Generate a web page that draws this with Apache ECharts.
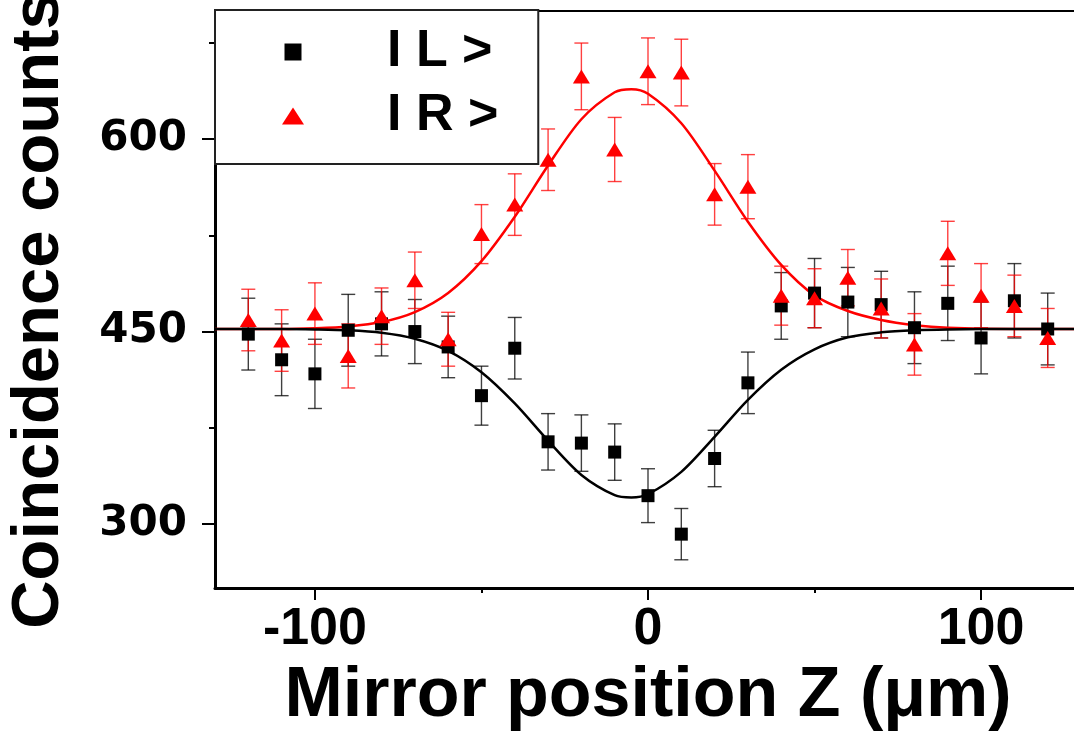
<!DOCTYPE html>
<html>
<head>
<meta charset="utf-8">
<script src="https://cdn.jsdelivr.net/npm/echarts@6/dist/echarts.min.js"></script>
<style>
    html, body { margin: 0; padding: 0; background: #fff; }
    #chart { width: 1074px; height: 731px; }
</style>
</head>
<body>
<div id="chart"></div>
<script>
// mirror positions (um)
var positions = [-120, -110, -100, -90, -80, -70, -60, -50, -40, -30, -20, -10, 0, 10, 20, 30, 40, 50, 60, 70, 80, 90, 100, 110, 120];
// |L> counts and errors
var countsL = [448, 428, 417, 451, 456, 450, 438, 400, 437, 364, 363, 356, 322, 292, 351, 410, 470, 480, 473, 471, 453, 472, 445, 474, 452];
var errorsL = [28, 28, 27, 28, 25, 25, 24, 23, 24, 22, 22, 22, 21, 20, 22, 24, 26, 27, 27, 26, 28, 29, 28, 29, 28];
// |R> counts and errors
var countsR = [459, 443, 464, 431, 462, 490, 444, 526, 549, 584, 649, 592, 653, 652, 557, 563, 478, 476, 492, 468, 440, 511, 478, 470, 445];
var errorsR = [24, 24, 24, 25, 22, 22, 21, 23, 24, 24, 26, 25, 26, 26, 24, 25, 23, 23, 22, 23, 24, 25, 25, 24, 23];
// fitted curves
var fitX = [-130, -110, -100, -90, -80, -70, -60, -50, -40, -30, -20, -10, -5, 0, 10, 20, 30, 40, 50, 60, 70, 80, 90, 110, 130];
var fitL = [452, 452, 451.7, 451, 449.1, 444.4, 434.9, 418.2, 393.9, 364.9, 338.2, 322.4, 320.6, 323.2, 340.6, 367.9, 396.7, 420.2, 436.1, 445.5, 449.4, 451.1, 451.7, 452, 452];
var fitR = [452, 452, 452.6, 454, 457.4, 465.2, 480.1, 504.9, 539.5, 579.5, 615.6, 636.6, 639, 635.5, 612.5, 575.5, 535.7, 502, 478.2, 466, 459, 455, 453, 452, 452];
// axis ticks
var xMajor = [-100, 0, 100];
var xMinor = [-50, 50];
var yMajor = [300, 450, 600];
var yMinor = [375, 525, 675];

var myChart = echarts.init(document.getElementById("chart"));

function pairs(xs, ys) {
    return xs.map(function(x, i) { return [x, ys[i]]; });
}
function triples(xs, ys, es) {
    return xs.map(function(x, i) { return [x, ys[i], es[i]]; });
}

// error bar drawn through the axis scales
function errorBar(color) {
    return function(params, api) {
        var x = api.value(0), y = api.value(1), e = api.value(2);
        var top = api.coord([x, y + e]);
        var bot = api.coord([x, y - e]);
        var w = 7;
        var style = { stroke: color, lineWidth: 1.4 };
        return {
            type: "group",
            children: [
                { type: "line", shape: { x1: top[0], y1: top[1], x2: bot[0], y2: bot[1] }, style: style },
                { type: "line", shape: { x1: top[0] - w, y1: top[1], x2: top[0] + w, y2: top[1] }, style: style },
                { type: "line", shape: { x1: bot[0] - w, y1: bot[1], x2: bot[0] + w, y2: bot[1] }, style: style }
            ]
        };
    };
}

var labelFont = {
    fontFamily: "Liberation Sans",
    fontWeight: "bold",
    color: "#000"
};

myChart.setOption({
    animation: false,
    grid: {
        left: 215,
        top: 11,
        right: -7,
        bottom: 143,
        outerBoundsMode: "none",
        show: true,
        borderColor: "#000",
        borderWidth: 2,
        backgroundColor: "transparent"
    },
    legend: {
        left: 215,
        top: 10,
        orient: "vertical",
        selectedMode: false,
        itemWidth: 22,
        itemHeight: 17,
        itemGap: 12,
        padding: [16, 40, 22, 67],
        borderColor: "#222",
        borderWidth: 2,
        backgroundColor: "#fff",
        data: [
            { name: "I L >", icon: "path://M0,0L10,0L10,10L0,10Z" },
            { name: "I R >", icon: "triangle" }
        ],
        textStyle: {
            fontFamily: "Liberation Sans",
            fontWeight: "bold",
            fontSize: 52,
            color: "#000",
            padding: [0, 0, 0, 78]
        }
    },
    xAxis: [
        {
            type: "value",
            min: -130,
            max: 130,
            name: "Mirror position Z (\u03bcm)",
            nameLocation: "middle",
            nameGap: 74,
            nameTextStyle: Object.assign({ fontSize: 70 }, labelFont),
            axisLine: { onZero: false, lineStyle: { color: "#000", width: 3 } },
            axisTick: { customValues: xMajor, length: 12, lineStyle: { color: "#000", width: 2 } },
            axisLabel: Object.assign({ customValues: xMajor, fontSize: 52, margin: 16 }, labelFont),
            splitLine: { show: false }
        },
        {
            type: "value",
            min: -130,
            max: 130,
            position: "bottom",
            axisLine: { show: false, onZero: false },
            axisTick: { customValues: xMinor, length: 5, lineStyle: { color: "#000", width: 2 } },
            axisLabel: { show: false },
            splitLine: { show: false }
        }
    ],
    yAxis: [
        {
            type: "value",
            min: 250,
            max: 700,
            name: "Coincidence counts",
            nameLocation: "middle",
            nameGap: 142,
            nameTextStyle: Object.assign({ fontSize: 67, padding: [0, 22, 0, 0] }, labelFont),
            axisLine: { onZero: false, lineStyle: { color: "#000", width: 3 } },
            axisTick: { customValues: yMajor, length: 13, lineStyle: { color: "#000", width: 2 } },
            axisLabel: { customValues: yMajor, fontSize: 42, margin: 28, fontFamily: "DejaVu Sans", fontWeight: "bold", color: "#000" },
            splitLine: { show: false }
        },
        {
            type: "value",
            min: 250,
            max: 700,
            position: "left",
            axisLine: { show: false, onZero: false },
            axisTick: { customValues: yMinor, length: 6, lineStyle: { color: "#000", width: 2 } },
            axisLabel: { show: false },
            splitLine: { show: false }
        }
    ],
    series: [
        {
            name: "errL",
            type: "custom",
            renderItem: errorBar("rgba(0,0,0,0.75)"),
            encode: { x: 0, y: 1 },
            data: triples(positions, countsL, errorsL),
            z: 2
        },
        {
            name: "errR",
            type: "custom",
            renderItem: errorBar("rgba(255,0,0,0.75)"),
            encode: { x: 0, y: 1 },
            data: triples(positions, countsR, errorsR),
            z: 2
        },
        {
            name: "fitR",
            type: "line",
            smooth: 0.3,
            showSymbol: false,
            data: pairs(fitX, fitR),
            lineStyle: { color: "#ff0000", width: 2.5 },
            z: 3
        },
        {
            name: "fitL",
            type: "line",
            smooth: 0.3,
            showSymbol: false,
            data: pairs(fitX, fitL),
            lineStyle: { color: "#000", width: 2.5 },
            z: 3
        },
        {
            name: "I L >",
            type: "scatter",
            symbol: "rect",
            symbolSize: 13,
            data: pairs(positions, countsL),
            itemStyle: { color: "#000", opacity: 1 },
            z: 4
        },
        {
            name: "I R >",
            type: "scatter",
            symbol: "triangle",
            symbolSize: [17, 14],
            data: pairs(positions, countsR),
            itemStyle: { color: "#ff0000", opacity: 1 },
            z: 5
        }
    ]
});
</script>
</body>
</html>
